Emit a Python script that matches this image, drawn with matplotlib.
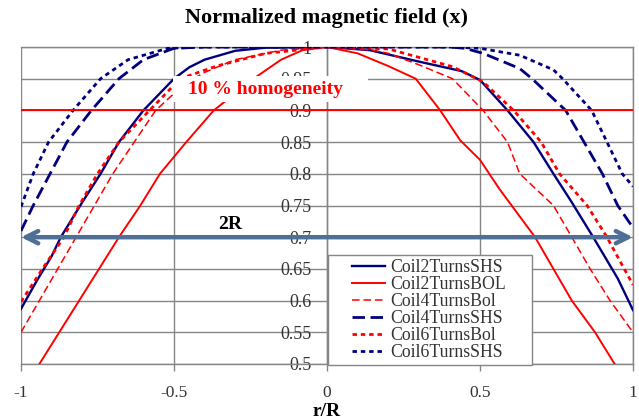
import numpy as np
import matplotlib
matplotlib.use("Agg")
import matplotlib.pyplot as plt
from matplotlib.patches import Rectangle

SERIF = ["Liberation Serif", "DejaVu Serif"]

# ---------------- data ----------------
x_c2_shs = [-1.0, -0.95, -0.9, -0.87, -0.8, -0.74, -0.68, -0.6, -0.5, -0.45, -0.4, -0.3, -0.2, 0.0,
            0.14, 0.3, 0.44, 0.5, 0.59, 0.675, 0.74, 0.8, 0.87, 0.95, 1.0]
y_c2_shs = [0.587, 0.63, 0.67, 0.70, 0.755, 0.80, 0.85, 0.90, 0.95, 0.968, 0.98, 0.994, 0.999, 1.0,
            0.995, 0.977, 0.962, 0.948, 0.90, 0.85, 0.80, 0.755, 0.70, 0.635, 0.585]

x_c2_bol = [-0.94, -0.81, -0.68, -0.61, -0.546, -0.46, -0.37, -0.24, -0.15, -0.08, 0.0,
            0.1, 0.2, 0.29, 0.37, 0.435, 0.5, 0.565, 0.68, 0.80, 0.876, 0.94]
y_c2_bol = [0.50, 0.60, 0.70, 0.75, 0.80, 0.85, 0.90, 0.95, 0.98, 0.995, 1.0,
            0.99, 0.97, 0.95, 0.90, 0.853, 0.822, 0.775, 0.70, 0.60, 0.55, 0.50]

x_c4_bol = [-1.0, -0.94, -0.88, -0.82, -0.76, -0.70, -0.63, -0.56, -0.47, -0.4, -0.3, -0.15, 0.0,
            0.15, 0.2, 0.3, 0.41, 0.51, 0.59, 0.63, 0.74, 0.80, 0.86, 0.925, 1.0]
y_c4_bol = [0.55, 0.60, 0.65, 0.70, 0.75, 0.80, 0.85, 0.90, 0.94, 0.96, 0.98, 0.995, 1.0,
            0.995, 0.99, 0.972, 0.95, 0.90, 0.85, 0.80, 0.75, 0.70, 0.65, 0.60, 0.55]

x_c4_shs = [-1.0, -0.96, -0.905, -0.85, -0.77, -0.68, -0.6, -0.5, -0.4, 0.0,
            0.4, 0.45, 0.51, 0.63, 0.67, 0.78, 0.84, 0.90, 0.95, 1.0]
y_c4_shs = [0.71, 0.75, 0.80, 0.85, 0.90, 0.95, 0.98, 0.998, 1.0, 1.0,
            1.0, 0.998, 0.99, 0.966, 0.95, 0.90, 0.85, 0.80, 0.75, 0.715]

x_c6_bol = [-1.0, -0.93, -0.86, -0.81, -0.75, -0.68, -0.58, -0.48, -0.36, -0.2, 0.0,
            0.2, 0.41, 0.51, 0.61, 0.70, 0.76, 0.85, 0.915, 0.96, 1.0]
y_c6_bol = [0.598, 0.65, 0.70, 0.75, 0.80, 0.85, 0.90, 0.95, 0.97, 0.99, 1.0,
            0.997, 0.969, 0.945, 0.90, 0.85, 0.80, 0.75, 0.70, 0.66, 0.625]

x_c6_shs = [-1.0, -0.96, -0.91, -0.83, -0.74, -0.65, -0.52, -0.4, 0.0,
            0.4, 0.5, 0.63, 0.74, 0.77, 0.865, 0.915, 0.965, 1.0]
y_c6_shs = [0.748, 0.80, 0.85, 0.90, 0.95, 0.98, 0.998, 1.0, 1.0,
            1.0, 0.998, 0.987, 0.964, 0.95, 0.90, 0.85, 0.80, 0.78]

series_names = ["Coil2TurnsSHS", "Coil2TurnsBOL", "Coil4TurnsBol",
                "Coil4TurnsSHS", "Coil6TurnsBol", "Coil6TurnsSHS"]

x_ticks = [-1, -0.5, 0, 0.5, 1]
x_tick_labels = ["-1", "-0.5", "0", "0.5", "1"]
y_ticks = [0.5, 0.55, 0.6, 0.65, 0.7, 0.75, 0.8, 0.85, 0.9, 0.95, 1.0]
y_tick_labels = ["0.5", "0.55", "0.6", "0.65", "0.7", "0.75", "0.8", "0.85", "0.9", "0.95", "1"]

homogeneity_level = 0.9
arrow_level = 0.7

# ---------------- figure ----------------
NAVY = "#00007F"
RED = "#FF0000"
GRID = "#858585"
TXT = "#333333"

W, H = 639, 420
AX_L, AX_R, AX_T, AX_B = 21, 633, 47, 364

fig = plt.figure(figsize=(6.39, 4.20), dpi=100)
ax = fig.add_axes([AX_L / W, 1 - AX_B / H, (AX_R - AX_L) / W, (AX_B - AX_T) / H])

def ax_frac(px, py):
    return (px - AX_L) / (AX_R - AX_L), (AX_B - py) / (AX_B - AX_T)

ax.set_xlim(-1, 1)
ax.set_ylim(0.5, 1.0)

ax.plot(x_c2_shs, y_c2_shs, color=NAVY, lw=1.7, label=series_names[0], zorder=3)
ax.plot(x_c2_bol, y_c2_bol, color=RED, lw=1.4, label=series_names[1], zorder=3)
ax.plot(x_c4_bol, y_c4_bol, color=RED, lw=1.1, dashes=(5, 2.5), label=series_names[2], zorder=3)
ax.plot(x_c4_shs, y_c4_shs, color=NAVY, lw=2.0, dashes=(4.5, 2), label=series_names[3], zorder=3)
ax.plot(x_c6_bol, y_c6_bol, color=RED, lw=2.0, dashes=(1.6, 1.4), label=series_names[4], zorder=3)
ax.plot(x_c6_shs, y_c6_shs, color=NAVY, lw=2.0, dashes=(1.6, 1.4), label=series_names[5], zorder=3)

# 10 % homogeneity line
ax.axhline(homogeneity_level, color=RED, lw=1.4, zorder=4.5)
# white label box behind the homogeneity text (hides curves/grid under it)
bx0, by0 = ax_frac(173, 102)
bx1, by1 = ax_frac(368, 76)
ax.add_patch(Rectangle((bx0, by0), bx1 - bx0, by1 - by0, transform=ax.transAxes,
                       facecolor="white", edgecolor="none", zorder=4))
ax.text(-0.2, 0.933, "10 % homogeneity", color=RED, fontsize=14, fontweight="bold",
        family=SERIF, ha="center", va="center", zorder=4.6)

# 2R arrow
ax.annotate("", xy=(1, arrow_level), xytext=(-1, arrow_level),
            arrowprops=dict(arrowstyle="<->", color="#4F6F97", lw=3.2, mutation_scale=22,
                            shrinkA=0, shrinkB=0),
            annotation_clip=False, zorder=5)
ax.text(-0.317, 0.72, "2R", color="black", fontsize=14, fontweight="bold",
        family=SERIF, ha="center", va="center", zorder=5)

# axes styling
ax.set_xticks(x_ticks)
ax.set_xticklabels(x_tick_labels)
ax.set_yticks(y_ticks)
ax.set_yticklabels(y_tick_labels)
ax.grid(True, color=GRID, lw=1.0, zorder=0)
ax.set_axisbelow(True)

for s in ["top", "right", "bottom"]:
    ax.spines[s].set_color(GRID)
    ax.spines[s].set_linewidth(1.0)
ax.spines["left"].set_position(("data", 0))
ax.spines["left"].set_color(GRID)
ax.spines["left"].set_linewidth(1.0)

ax.tick_params(axis="y", length=0, pad=11, labelsize=13, labelcolor=TXT)
ax.tick_params(axis="x", length=5, width=1, color=GRID, pad=10, labelsize=12.5, labelcolor=TXT)
for lab in ax.get_xticklabels() + ax.get_yticklabels():
    lab.set_family(SERIF)

fig.text(327 / W, 1 - 18 / H, "Normalized magnetic field (x)", fontsize=16,
         fontweight="bold", family=SERIF, ha="center", va="center")
fig.text(327 / W, 1 - 419.5 / H, "r/R", fontsize=14, fontweight="bold",
         family=SERIF, ha="center", va="bottom")

# legend: frame drawn as a separate box, entries placed inside
fx0, fy0 = ax_frac(328, 365)
fx1, fy1 = ax_frac(532, 255)
ax.add_patch(Rectangle((fx0, fy0), fx1 - fx0, fy1 - fy0, transform=ax.transAxes,
                       facecolor="white", edgecolor=GRID, lw=1.0, zorder=9, clip_on=False))
lx, ly = ax_frac(352, 259)
leg = ax.legend(loc="upper left", bbox_to_anchor=(lx, ly), borderaxespad=0, borderpad=0,
                prop={"family": SERIF, "size": 12.8}, frameon=False,
                labelspacing=0.0, handlelength=1.85, handletextpad=0.28, labelcolor=TXT)
leg.set_zorder(10)

fig.savefig("out.png", dpi=100)
